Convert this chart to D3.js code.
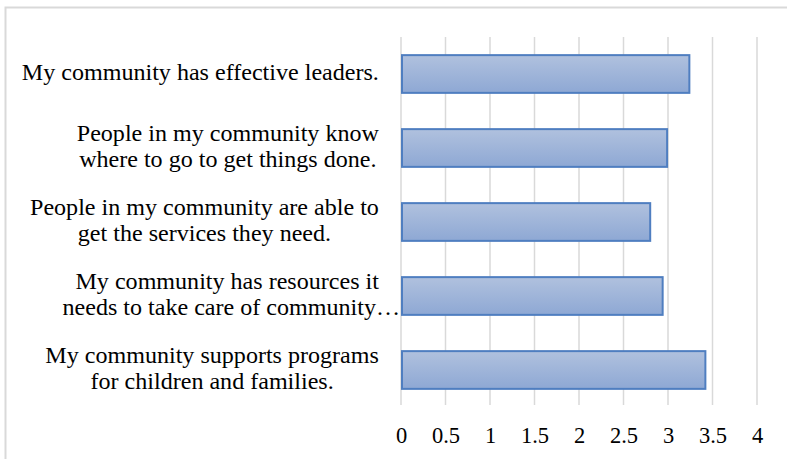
<!DOCTYPE html>
<html><head><meta charset="utf-8">
<script src="https://cdn.jsdelivr.net/npm/d3@7"></script>
<style>
html,body{margin:0;padding:0;background:#fff;}
svg{display:block;}
text{font-family:"Liberation Serif","Times New Roman",serif;fill:#000;}
</style></head>
<body><svg id="c" width="787" height="459"></svg>
<script>
const categories = [
  ["My community has effective leaders."],
  ["People in my community know", "where to go to get things done."],
  ["People in my community are able to", "get the services they need."],
  ["My community has resources it", "needs to take care of community…"],
  ["My community supports programs", "for children and families."]
];
const values = [3.24, 2.99, 2.80, 2.94, 3.42];
const tickValues = [0, 0.5, 1, 1.5, 2, 2.5, 3, 3.5, 4];
const tickLabels = ["0", "0.5", "1", "1.5", "2", "2.5", "3", "3.5", "4"];

const svg = d3.select("#c");
const W = 787, H = 459;
const plot = {left: 401, right: 757, top: 37, bottom: 407};

// outer frame (cropped at right/bottom)
svg.append("rect").attr("x", 5.5).attr("y", 7.5).attr("width", W + 10).attr("height", H + 10)
  .attr("fill", "none").attr("stroke", "#d9d9d9").attr("stroke-width", 2);

const defs = svg.append("defs");
const grad = defs.append("linearGradient").attr("id", "barGrad")
  .attr("x1", 0).attr("y1", 0).attr("x2", 0).attr("y2", 1);
grad.append("stop").attr("offset", "0%").attr("stop-color", "#b0c1de");
grad.append("stop").attr("offset", "100%").attr("stop-color", "#8ea8d4");

const x = d3.scaleLinear().domain([0, 4]).range([plot.left, plot.right]);
const y = d3.scaleBand().domain(d3.range(categories.length)).range([plot.top, plot.bottom]).paddingInner(0.49).paddingOuter(0.245);

// gridlines
svg.append("g").selectAll("line").data(tickValues).join("line")
  .attr("x1", d => x(d)).attr("x2", d => x(d))
  .attr("y1", plot.top).attr("y2", plot.bottom - 2)
  .attr("stroke", "#d9d9d9").attr("stroke-width", 1.5);

// bars
svg.append("g").selectAll("rect").data(values).join("rect")
  .attr("x", x(0) + 1)
  .attr("y", (d, i) => y(i))
  .attr("width", d => x(d) - x(0) - 1)
  .attr("height", y.bandwidth())
  .attr("fill", "url(#barGrad)")
  .attr("stroke", "#4f7ec0").attr("stroke-width", 2);

// x axis tick labels
const xAxis = d3.axisBottom(x).tickValues(tickValues).tickFormat((d, i) => tickLabels[i]).tickSize(0).tickPadding(0);
const gx = svg.append("g").attr("transform", `translate(0,${plot.bottom + 20})`).call(xAxis);
gx.select(".domain").remove();
gx.selectAll("text").attr("font-size", 22.5).attr("font-family", '"Liberation Serif","Times New Roman",serif')
  .attr("fill", "#000");

// category labels: block right-aligned near the axis, lines centred within block
const fs = 23, sx = 1.047, lineH = 26, blockRight = 379;
const gl = svg.append("g");
categories.forEach((lines, i) => {
  const cy = y(i) + y.bandwidth() / 2 - 2;
  const n = lines.length;
  // measure
  const widths = lines.map(t => {
    const tmp = gl.append("text").attr("font-size", fs).text(t);
    const w = tmp.node().getComputedTextLength() * sx;
    tmp.remove();
    return w;
  });
  const blockW = d3.max(lines.map((t, j) => t.endsWith("…") ? 0 : widths[j]));
  const cx = blockRight - blockW / 2;
  lines.forEach((t, j) => {
    const ty = cy + (j - (n - 1) / 2) * lineH;
    const trunc = t.endsWith("…");
    const tx = trunc ? x(0) - 1 : cx;
    gl.append("text")
      .attr("transform", `translate(${tx},${ty}) scale(${sx},1)`)
      .attr("dy", "0.35em")
      .attr("text-anchor", trunc ? "end" : "middle")
      .attr("font-size", fs)
      .text(t);
  });
});
</script></body></html>
